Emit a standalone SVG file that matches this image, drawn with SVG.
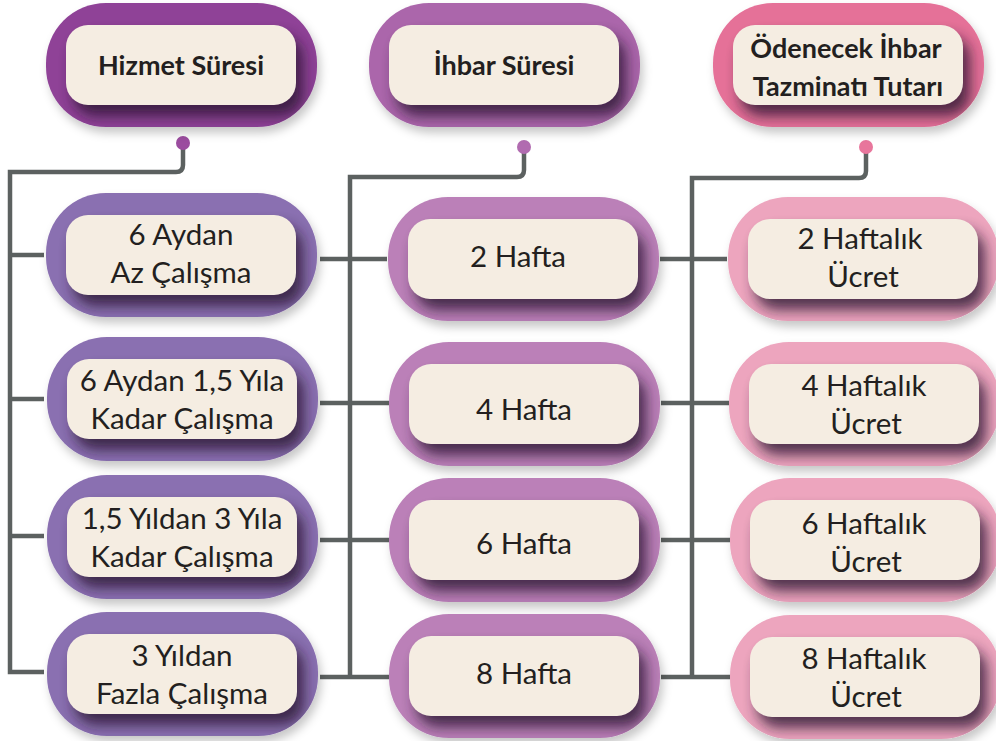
<svg xmlns="http://www.w3.org/2000/svg" width="996" height="741" viewBox="0 0 996 741">
  <defs>
    <!-- pill outline used to keep the inner shading inside each node -->
    <clipPath id="ring" clipPathUnits="userSpaceOnUse">
      <rect x="0" y="0" width="271" height="124" rx="60"/>
    </clipPath>
    <filter id="drop" x="-10%" y="-10%" width="125%" height="140%">
      <feDropShadow dx="3" dy="6" stdDeviation="5" flood-color="#000" flood-opacity="0.22"/>
    </filter>
    <filter id="soft" x="-20%" y="-30%" width="140%" height="160%">
      <feGaussianBlur stdDeviation="7"/>
    </filter>
    <style>
      .ring { filter: url(#drop); }
      .shade { fill: #2a1930; opacity: 0.8; filter: url(#soft); }
      .card { fill: #f5ede2; }
      .h1 { fill: #8f4397; }
      .h2 { fill: #ab66ab; }
      .h3 { fill: #e57198; }
      .c1 { fill: #8a6fb1; }
      .c2 { fill: #bb80b8; }
      .c3 { fill: #eda5be; }
      .lbl { font-family: Lato, "Liberation Sans", sans-serif; font-size: 29.5px; fill: #231f20; text-anchor: middle; }
      .b { font-weight: bold; font-size: 27px; }
      .wire { fill: none; stroke: #5c6160; stroke-width: 4.5; }
    </style>
  </defs>

  <!-- connectors -->
  <g id="connectors">
    <path class="wire" d="M183,143 V165 Q183,172 176,172 H10 V672 H44"/>
    <path class="wire" d="M10,255 H44 M10,399 H44 M10,536 H44"/>
    <path class="wire" d="M524,147 V170 Q524,177 517,177 H350 V677"/>
    <path class="wire" d="M320,259 H387 M320,403 H389 M320,540 H389 M320,677 H389"/>
    <path class="wire" d="M866,147 V171 Q866,178 859,178 H692 V677"/>
    <path class="wire" d="M660,259 H727 M661,403 H729 M661,540 H730 M661,677 H730"/>
    <circle cx="183" cy="143" r="7" fill="#9b4c9f"/>
    <circle cx="524" cy="147" r="7" fill="#b16bb0"/>
    <circle cx="866" cy="147" r="7" fill="#e8769c"/>
  </g>

  <!-- header nodes -->
  <g id="hizmet-suresi" transform="translate(46,3)">
    <rect class="ring h1" width="271" height="124" rx="60"/>
    <rect class="shade" x="27" y="33" width="230" height="80" rx="22" clip-path="url(#ring)"/>
    <rect class="card" x="20" y="22" width="230" height="80" rx="22"/>
    <text class="lbl b" x="135" y="72">Hizmet Süresi</text>
  </g>
  <g id="ihbar-suresi" transform="translate(369,3)">
    <rect class="ring h2" width="271" height="124" rx="60"/>
    <rect class="shade" x="27" y="33" width="230" height="80" rx="22" clip-path="url(#ring)"/>
    <rect class="card" x="20" y="22" width="230" height="80" rx="22"/>
    <text class="lbl b" x="135" y="72">İhbar Süresi</text>
  </g>
  <g id="tazminat-tutari" transform="translate(713,3)">
    <rect class="ring h3" width="271" height="124" rx="60"/>
    <rect class="shade" x="27" y="33" width="230" height="80" rx="22" clip-path="url(#ring)"/>
    <rect class="card" x="20" y="22" width="230" height="80" rx="22"/>
    <text class="lbl b" x="133" y="55">Ödenecek İhbar</text>
    <text class="lbl b" x="135" y="93">Tazminatı Tutarı</text>
  </g>

  <!-- service period column -->
  <g id="hizmet-1" transform="translate(46,193)">
    <rect class="ring c1" width="271" height="124" rx="60"/>
    <rect class="shade" x="27" y="33" width="230" height="80" rx="22" clip-path="url(#ring)"/>
    <rect class="card" x="20" y="22" width="230" height="80" rx="22"/>
    <text class="lbl" x="135" y="52">6 Aydan</text>
    <text class="lbl" x="135" y="90">Az Çalışma</text>
  </g>
  <g id="hizmet-2" transform="translate(47,337)">
    <rect class="ring c1" width="271" height="124" rx="60"/>
    <rect class="shade" x="27" y="33" width="230" height="80" rx="22" clip-path="url(#ring)"/>
    <rect class="card" x="20" y="22" width="230" height="80" rx="22"/>
    <text class="lbl" x="135" y="54">6 Aydan 1,5 Yıla</text>
    <text class="lbl" x="135" y="92">Kadar Çalışma</text>
  </g>
  <g id="hizmet-3" transform="translate(47,475)">
    <rect class="ring c1" width="271" height="124" rx="60"/>
    <rect class="shade" x="27" y="33" width="230" height="80" rx="22" clip-path="url(#ring)"/>
    <rect class="card" x="20" y="22" width="230" height="80" rx="22"/>
    <text class="lbl" x="135" y="54">1,5 Yıldan 3 Yıla</text>
    <text class="lbl" x="135" y="92">Kadar Çalışma</text>
  </g>
  <g id="hizmet-4" transform="translate(47,612)">
    <rect class="ring c1" width="271" height="124" rx="60"/>
    <rect class="shade" x="27" y="33" width="230" height="80" rx="22" clip-path="url(#ring)"/>
    <rect class="card" x="20" y="22" width="230" height="80" rx="22"/>
    <text class="lbl" x="135" y="54">3 Yıldan</text>
    <text class="lbl" x="135" y="92">Fazla Çalışma</text>
  </g>

  <!-- notice period column -->
  <g id="ihbar-1" transform="translate(388,197)">
    <rect class="ring c2" width="271" height="124" rx="60"/>
    <rect class="shade" x="27" y="33" width="230" height="80" rx="22" clip-path="url(#ring)"/>
    <rect class="card" x="20" y="22" width="230" height="80" rx="22"/>
    <text class="lbl" x="130" y="70">2 Hafta</text>
  </g>
  <g id="ihbar-2" transform="translate(389,342)">
    <rect class="ring c2" width="271" height="124" rx="60"/>
    <rect class="shade" x="27" y="33" width="230" height="80" rx="22" clip-path="url(#ring)"/>
    <rect class="card" x="20" y="22" width="230" height="80" rx="22"/>
    <text class="lbl" x="135" y="78">4 Hafta</text>
  </g>
  <g id="ihbar-3" transform="translate(389,478)">
    <rect class="ring c2" width="271" height="124" rx="60"/>
    <rect class="shade" x="27" y="33" width="230" height="80" rx="22" clip-path="url(#ring)"/>
    <rect class="card" x="20" y="22" width="230" height="80" rx="22"/>
    <text class="lbl" x="135" y="76">6 Hafta</text>
  </g>
  <g id="ihbar-4" transform="translate(389,614)">
    <rect class="ring c2" width="271" height="124" rx="60"/>
    <rect class="shade" x="27" y="33" width="230" height="80" rx="22" clip-path="url(#ring)"/>
    <rect class="card" x="20" y="22" width="230" height="80" rx="22"/>
    <text class="lbl" x="135" y="70">8 Hafta</text>
  </g>

  <!-- payable amount column -->
  <g id="tutar-1" transform="translate(728,197)">
    <rect class="ring c3" width="271" height="124" rx="60"/>
    <rect class="shade" x="27" y="33" width="230" height="80" rx="22" clip-path="url(#ring)"/>
    <rect class="card" x="20" y="22" width="230" height="80" rx="22"/>
    <text class="lbl" x="132" y="52">2 Haftalık</text>
    <text class="lbl" x="135" y="90">Ücret</text>
  </g>
  <g id="tutar-2" transform="translate(729,342)">
    <rect class="ring c3" width="271" height="124" rx="60"/>
    <rect class="shade" x="27" y="33" width="230" height="80" rx="22" clip-path="url(#ring)"/>
    <rect class="card" x="20" y="22" width="230" height="80" rx="22"/>
    <text class="lbl" x="135" y="54">4 Haftalık</text>
    <text class="lbl" x="137" y="92">Ücret</text>
  </g>
  <g id="tutar-3" transform="translate(730,478)">
    <rect class="ring c3" width="271" height="124" rx="60"/>
    <rect class="shade" x="27" y="33" width="230" height="80" rx="22" clip-path="url(#ring)"/>
    <rect class="card" x="20" y="22" width="230" height="80" rx="22"/>
    <text class="lbl" x="134" y="56">6 Haftalık</text>
    <text class="lbl" x="136" y="94">Ücret</text>
  </g>
  <g id="tutar-4" transform="translate(730,615)">
    <rect class="ring c3" width="271" height="124" rx="60"/>
    <rect class="shade" x="27" y="33" width="230" height="80" rx="22" clip-path="url(#ring)"/>
    <rect class="card" x="20" y="22" width="230" height="80" rx="22"/>
    <text class="lbl" x="134" y="54">8 Haftalık</text>
    <text class="lbl" x="136" y="92">Ücret</text>
  </g>
</svg>
